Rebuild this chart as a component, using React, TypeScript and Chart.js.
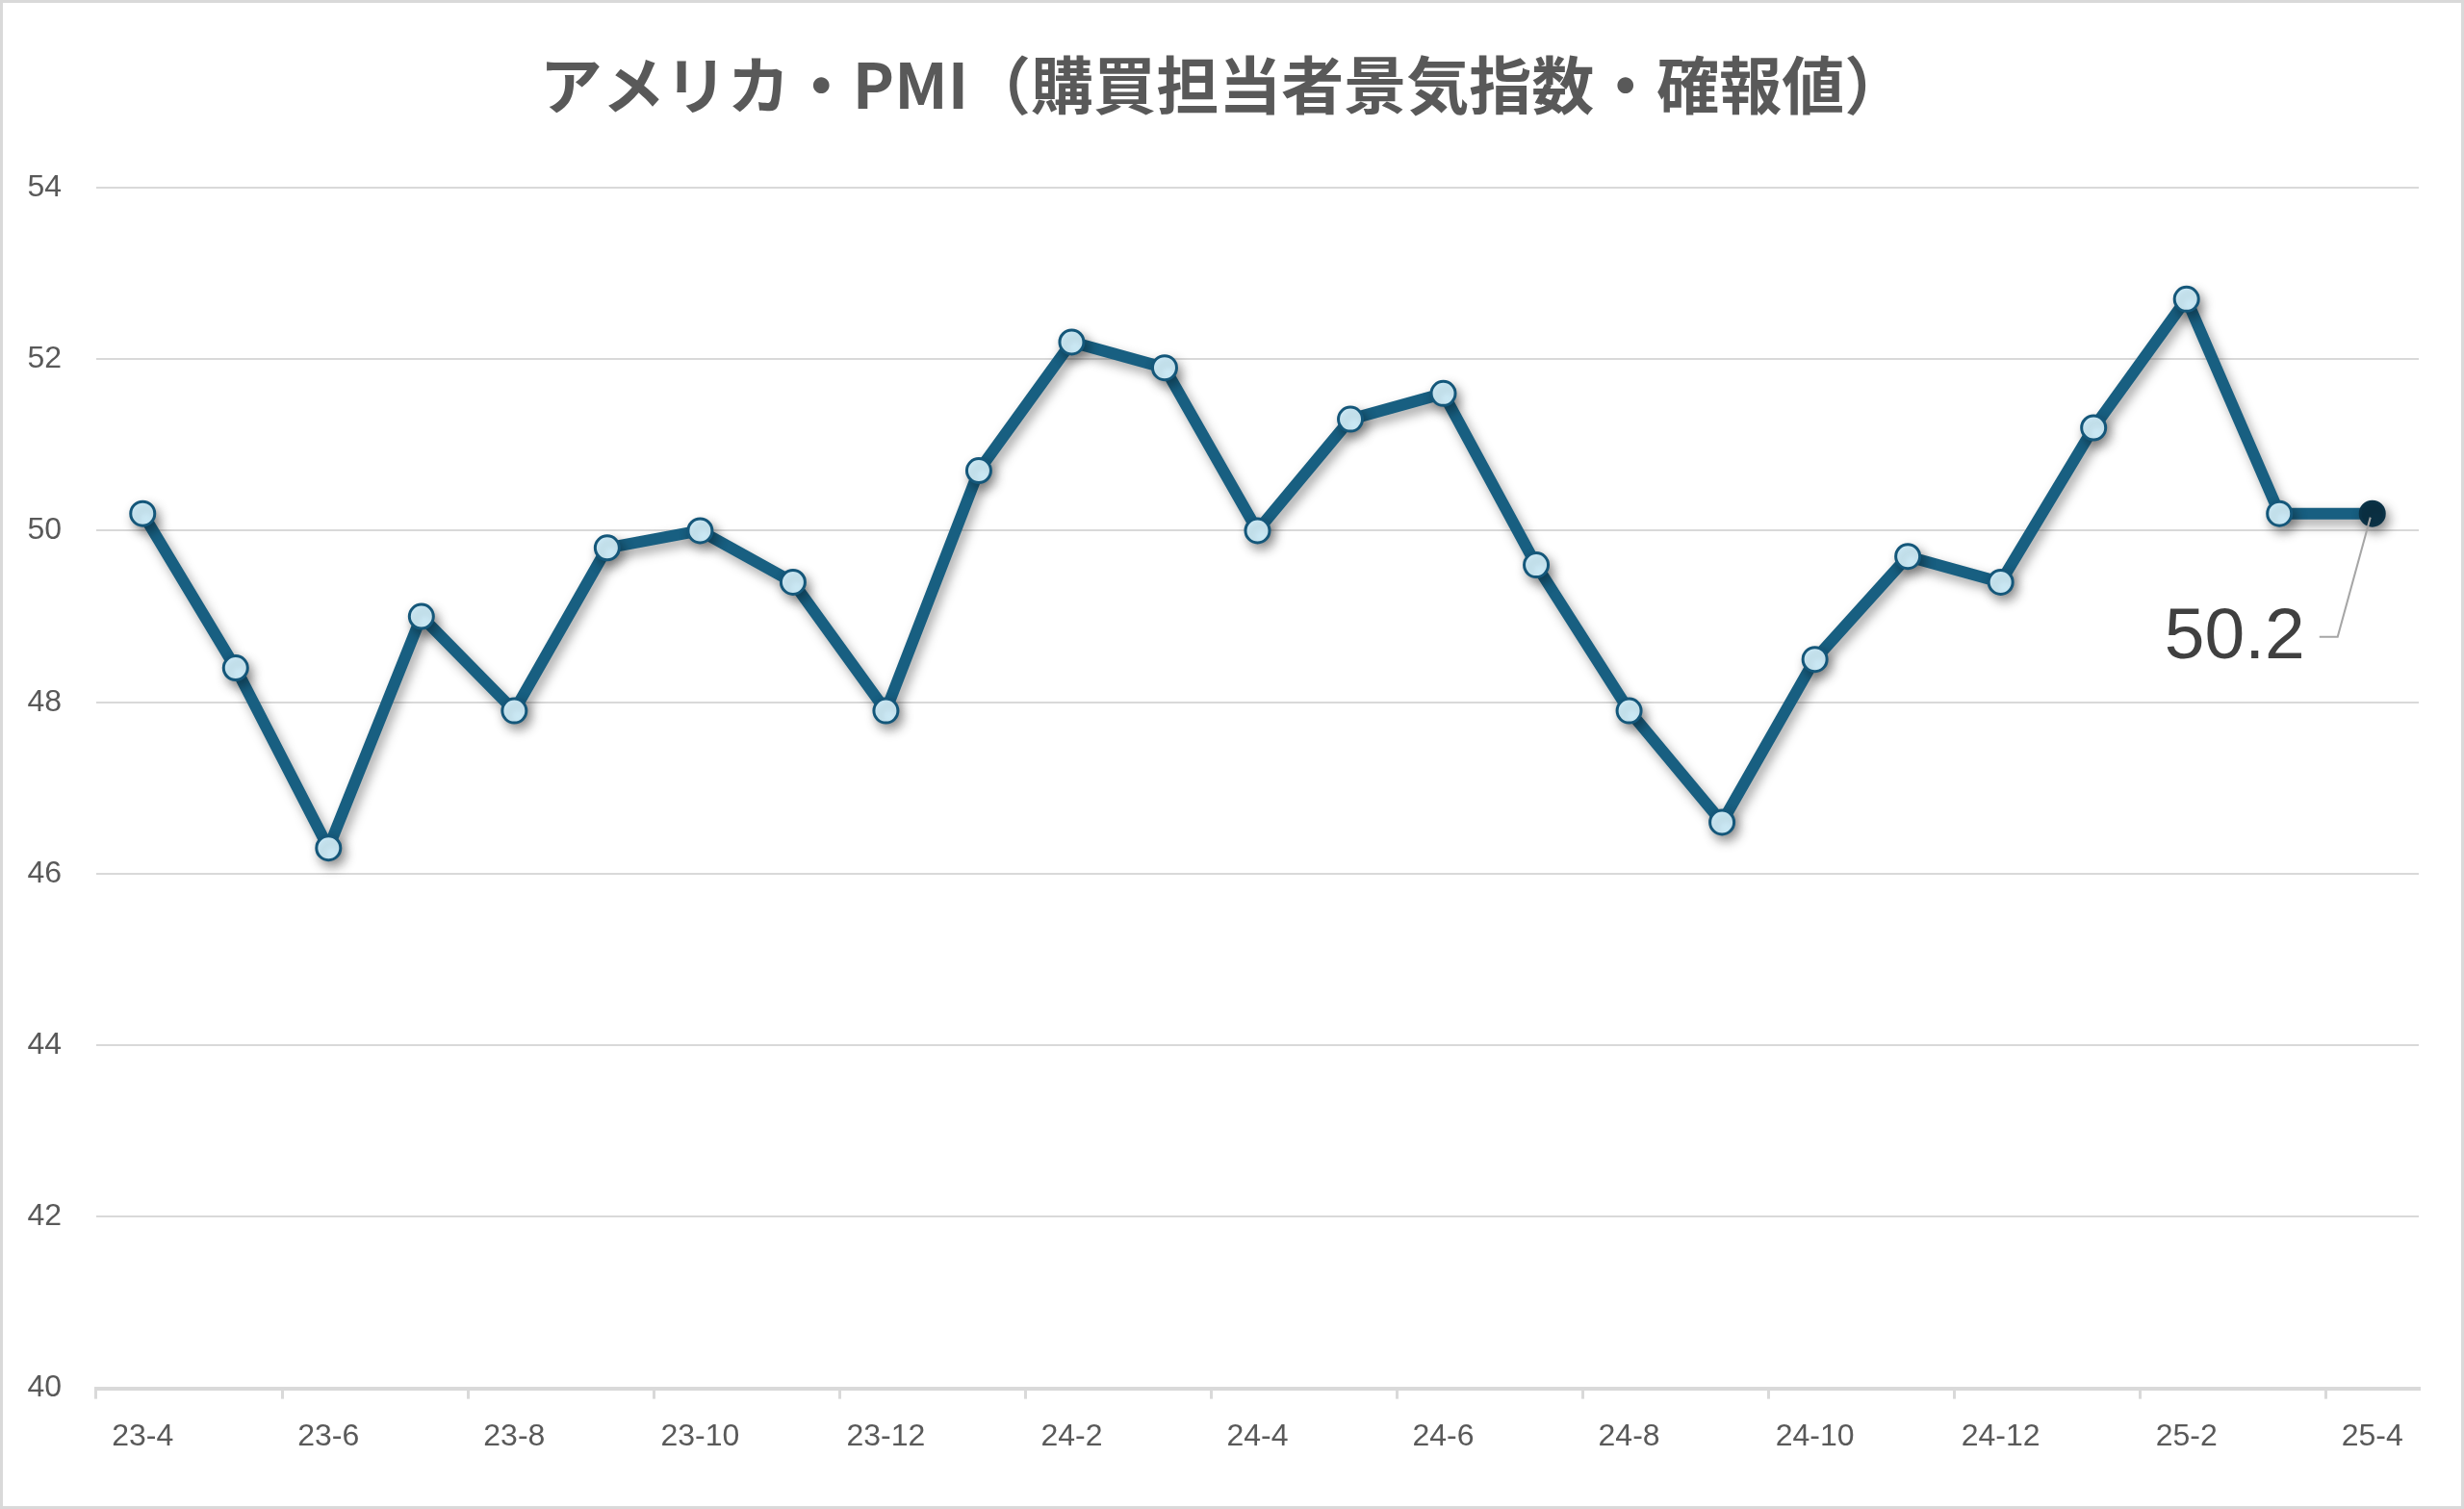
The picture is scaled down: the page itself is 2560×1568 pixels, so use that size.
import React, { useEffect, useRef } from 'react';
import { Chart, registerables } from 'chart.js';

Chart.register(...registerables);

const TITLE = 'アメリカ・PMI（購買担当者景気指数・確報値）';

const categories = [
  '23-4', '23-5', '23-6', '23-7', '23-8', '23-9', '23-10', '23-11', '23-12',
  '24-1', '24-2', '24-3', '24-4', '24-5', '24-6', '24-7', '24-8', '24-9',
  '24-10', '24-11', '24-12', '25-1', '25-2', '25-3', '25-4',
];

const pmiValues = [
  50.2, 48.4, 46.3, 49.0, 47.9, 49.8, 50.0, 49.4, 47.9,
  50.7, 52.2, 51.9, 50.0, 51.3, 51.6, 49.6, 47.9, 46.6,
  48.5, 49.7, 49.4, 51.2, 52.7, 50.2, 50.2,
];

const yMin = 40;
const yMax = 54;
const yStep = 2;

const LINE_COLOR = '#185f81';
const MARKER_FILL = '#d2f1fd';
const MARKER_BORDER = '#14577a';
const LAST_FILL = '#0b3246';
const GRID = '#d9d9d9';
const TEXT = '#595959';

const backgroundPlugin = {
  id: 'bgBorder',
  beforeDraw(chart: any) {
    const { ctx, width, height } = chart;
    ctx.save();
    ctx.fillStyle = '#ffffff';
    ctx.fillRect(0, 0, width, height);
    ctx.strokeStyle = GRID;
    ctx.lineWidth = 3;
    ctx.strokeRect(1.5, 1.5, width - 3, height - 3);
    ctx.restore();
  },
};

const titlePlugin = {
  id: 'customTitle',
  afterDraw(chart: any) {
    const ctx = chart.ctx;
    ctx.save();
    ctx.fillStyle = TEXT;
    ctx.font = 'bold 65px "Noto Sans CJK JP", sans-serif';
    ctx.textAlign = 'center';
    ctx.textBaseline = 'middle';
    ctx.fillText(TITLE, chart.width / 2 - 9, 88);
    ctx.restore();
  },
};

const shadowPlugin = {
  id: 'lineShadow',
  beforeDatasetDraw(chart: any) {
    const ctx = chart.ctx;
    ctx.save();
    ctx.shadowColor = 'rgba(0,0,0,0.35)';
    ctx.shadowBlur = 12;
    ctx.shadowOffsetX = 4;
    ctx.shadowOffsetY = 6;
  },
  afterDatasetDraw(chart: any) {
    chart.ctx.restore();
  },
};

const lastLabelPlugin = {
  id: 'lastLabel',
  afterDatasetsDraw(chart: any) {
    const meta = chart.getDatasetMeta(0);
    const n = meta.data.length;
    if (!n) return;
    const pt = meta.data[n - 1];
    const value = chart.data.datasets[0].data[n - 1];
    const ctx = chart.ctx;
    const ly = pt.y + 128;
    ctx.save();
    ctx.strokeStyle = '#a6a6a6';
    ctx.lineWidth = 2;
    ctx.beginPath();
    ctx.moveTo(pt.x - 55, ly);
    ctx.lineTo(pt.x - 36, ly);
    ctx.lineTo(pt.x - 2, pt.y + 4);
    ctx.stroke();
    ctx.fillStyle = '#404040';
    ctx.font = '75px "Liberation Sans", Arial, sans-serif';
    ctx.textAlign = 'right';
    ctx.textBaseline = 'middle';
    ctx.fillText(Number(value).toFixed(1), pt.x - 70, ly + 2);
    ctx.restore();
  },
};

export default function App() {
  const canvasRef = useRef<HTMLCanvasElement | null>(null);

  useEffect(() => {
    document.body.style.margin = '0';
    const canvas = canvasRef.current;
    if (!canvas) return;
    const n = pmiValues.length;
    const pointFills = pmiValues.map((_, i) => (i === n - 1 ? LAST_FILL : MARKER_FILL));
    const pointBorders = pmiValues.map((_, i) => (i === n - 1 ? LAST_FILL : MARKER_BORDER));

    const chart = new Chart(canvas, {
      type: 'line',
      data: {
        labels: categories,
        datasets: [
          {
            label: 'PMI',
            data: pmiValues,
            borderColor: LINE_COLOR,
            borderWidth: 12,
            tension: 0,
            borderJoinStyle: 'round',
            borderCapStyle: 'round',
            pointRadius: 12.5,
            pointBorderWidth: 3,
            pointBackgroundColor: pointFills,
            pointBorderColor: pointBorders,
            fill: false,
            clip: false as any,
          },
        ],
      },
      options: {
        responsive: false,
        animation: false,
        devicePixelRatio: 1,
        layout: { padding: { left: 0, right: 47, top: 195, bottom: 36 } },
        plugins: {
          legend: { display: false },
          tooltip: { enabled: false },
          title: { display: false },
        },
        scales: {
          x: {
            type: 'category',
            offset: true,
            grid: {
              display: true,
              offset: true,
              drawOnChartArea: false,
              drawTicks: true,
              tickLength: 11,
              lineWidth: 3,
              color: (ctx: any) =>
                ctx.index !== undefined && ctx.index % 2 === 0 ? GRID : 'rgba(0,0,0,0)',
            },
            border: { display: true, color: GRID, width: 4 },
            ticks: {
              autoSkip: false,
              maxRotation: 0,
              minRotation: 0,
              padding: 20,
              color: TEXT,
              font: { family: '"Liberation Sans", Arial, sans-serif', size: 32 },
              callback: (_v: any, i: number) => (i % 2 === 0 ? categories[i] : ''),
            },
          },
          y: {
            min: yMin,
            max: yMax,
            grid: { color: GRID, lineWidth: 2, drawTicks: false },
            border: { display: false },
            ticks: {
              stepSize: yStep,
              padding: 36,
              color: TEXT,
              font: { family: '"Liberation Sans", Arial, sans-serif', size: 32 },
            },
            afterFit: (scale: any) => {
              scale.width = 100;
            },
          },
        },
      },
      plugins: [backgroundPlugin, titlePlugin, shadowPlugin, lastLabelPlugin],
    });

    return () => {
      chart.destroy();
    };
  }, []);

  return (
    <div style={{ width: 2560, height: 1568 }}>
      <canvas ref={canvasRef} width={2560} height={1568} style={{ display: 'block' }} />
    </div>
  );
}
